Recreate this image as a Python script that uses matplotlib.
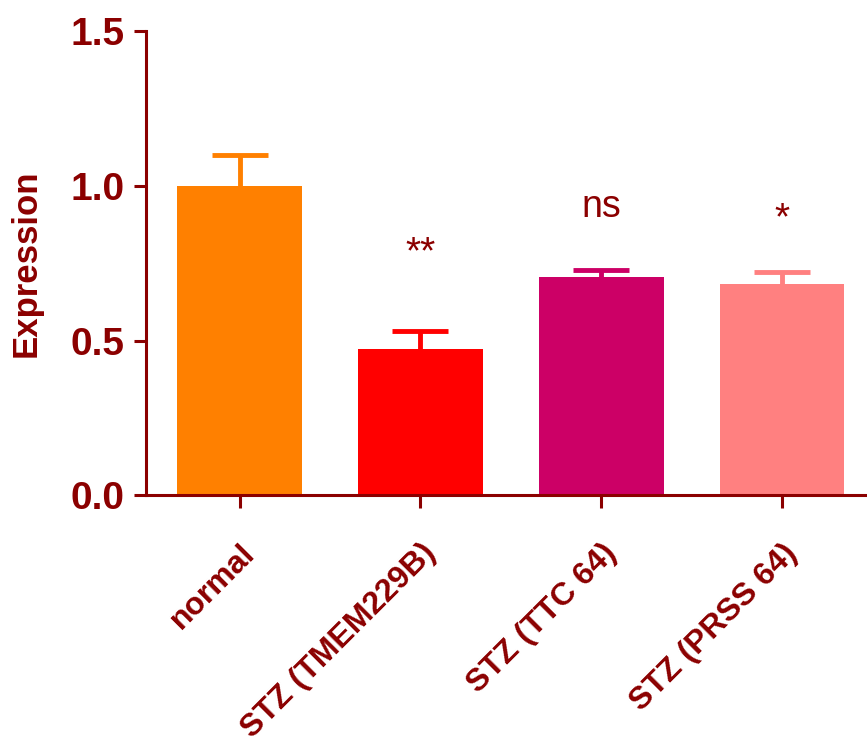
import matplotlib
matplotlib.use("Agg")
import matplotlib.pyplot as plt

categories = ["normal", "STZ (TMEM229B)", "STZ (TTC 64)", "STZ (PRSS 64)"]
values = [1.0, 0.472, 0.705, 0.682]
errors = [0.099, 0.058, 0.022, 0.039]
colors = ["#FF8000", "#FF0000", "#CC0066", "#FF8080"]
signif = ["", "**", "ns", "*"]
signif_y = [None, 0.75, 0.90, 0.86]
yticks = [0.0, 0.5, 1.0, 1.5]
ytick_labels = ["0.0", "0.5", "1.0", "1.5"]

axcol = "#8B0000"
plt.rcParams["font.family"] = ["Liberation Sans", "DejaVu Sans"]

fig = plt.figure(figsize=(8.67, 7.47), dpi=100)
ax = fig.add_axes([0.168, 0.337, 0.832, 0.6215])

x = list(range(len(categories)))
# error bars drawn behind the bars so only the upper half shows
for xi, v, e, c in zip(x, values, errors, colors):
    ax.errorbar(xi, v, yerr=e, fmt="none", ecolor=c,
                elinewidth=3.5, capsize=20, capthick=3.5, zorder=1)
ax.bar(x, values, width=0.69, color=colors, zorder=2)

for xi, s, sy in zip(x, signif, signif_y):
    if s:
        fs = 28 if s.startswith("*") else 27
        ax.text(xi, sy, s, ha="center", va="baseline", color=axcol, fontsize=fs)

ax.set_ylim(0, 1.5)
ax.set_xlim(-0.52, 3.47)
ax.set_yticks(yticks)
ax.set_yticklabels(ytick_labels, fontsize=28, fontweight="bold", color=axcol)
ax.set_xticks(x)
ax.set_xticklabels(categories, rotation=45, ha="right", rotation_mode="anchor",
                   fontsize=23, fontweight="bold", color=axcol)
ax.set_ylabel("Expression", fontsize=25, fontweight="bold", color=axcol, labelpad=20)

for side in ["top", "right"]:
    ax.spines[side].set_visible(False)
for side in ["left", "bottom"]:
    ax.spines[side].set_color(axcol)
    ax.spines[side].set_linewidth(2.2)
    ax.spines[side].set_clip_on(False)
ax.tick_params(axis="both", colors=axcol, width=2.2, length=9)
ax.tick_params(axis="x", pad=22)
ax.tick_params(axis="y", pad=6)

fig.savefig("out.png", dpi=100)
